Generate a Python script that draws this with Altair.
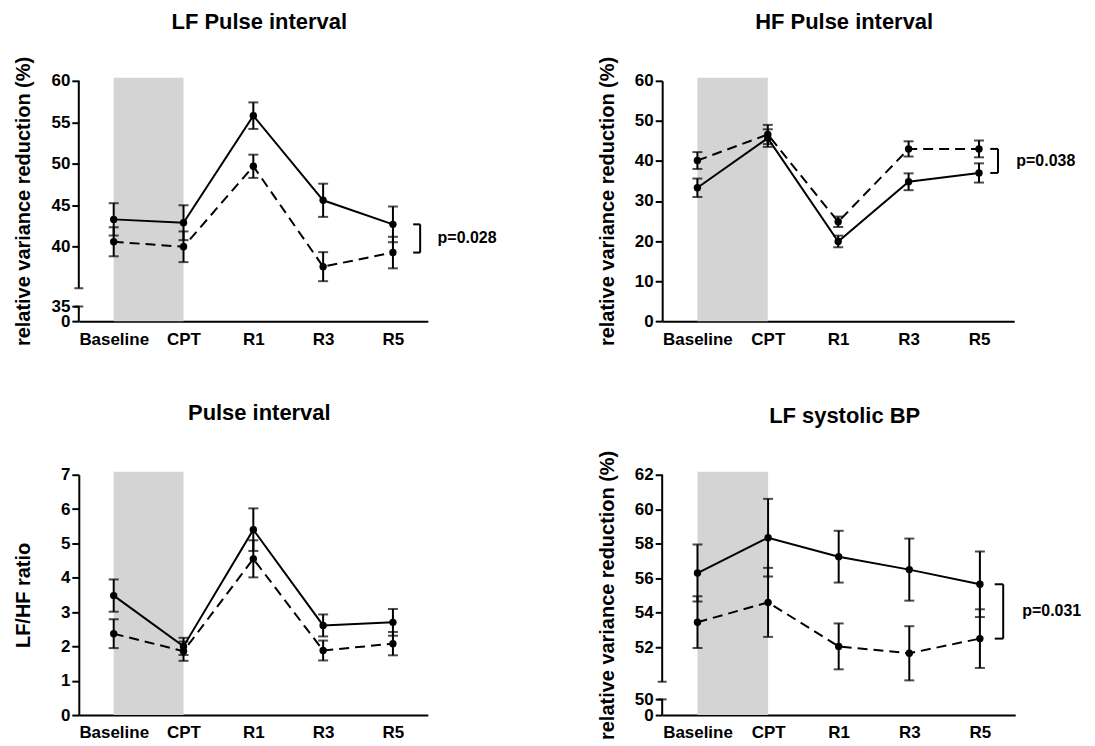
import altair as alt
import pandas as pd

# ---------------- data ----------------
categories = ["Baseline", "CPT", "R1", "R3", "R5"]

titles = ["LF Pulse interval", "HF Pulse interval", "Pulse interval", "LF systolic BP"]
y_titles = ["relative variance reduction (%)", "relative variance reduction (%)",
            "LF/HF ratio", "relative variance reduction (%)"]

lf_pi_solid = [43.3, 42.9, 55.8, 45.6, 42.7]
lf_pi_solid_sem = [1.95, 2.1, 1.6, 2.0, 2.15]
lf_pi_dashed = [40.6, 40.0, 49.7, 37.6, 39.3]
lf_pi_dashed_sem = [1.75, 1.85, 1.4, 1.75, 1.9]

hf_pi_solid = [33.3, 45.7, 19.9, 34.8, 37.0]
hf_pi_solid_sem = [2.3, 2.2, 1.45, 2.1, 2.4]
hf_pi_dashed = [40.1, 46.6, 24.8, 43.0, 43.0]
hf_pi_dashed_sem = [2.1, 2.4, 1.3, 1.9, 2.1]

ratio_solid = [3.48, 2.0, 5.4, 2.61, 2.7]
ratio_solid_sem = [0.47, 0.25, 0.62, 0.32, 0.39]
ratio_dashed = [2.37, 1.86, 4.55, 1.88, 2.08]
ratio_dashed_sem = [0.42, 0.28, 0.54, 0.29, 0.34]

lf_sbp_solid = [56.3, 58.35, 57.25, 56.5, 55.65]
lf_sbp_solid_sem = [1.65, 2.25, 1.5, 1.8, 1.9]
lf_sbp_dashed = [53.45, 54.6, 52.05, 51.65, 52.5]
lf_sbp_dashed_sem = [1.5, 2.0, 1.33, 1.57, 1.7]

p_values = ["p=0.028", "p=0.038", "", "p=0.031"]

# y-axis definitions (broken axes use a piecewise scale)
y_ticks_lf_pi = [0, 34.9, 40, 45, 50, 55, 60]
y_ticks_hf_pi = [0, 10, 20, 30, 40, 50, 60]
y_ticks_ratio = [0, 1, 2, 3, 4, 5, 6, 7]
y_ticks_lf_sbp = [0, 49.9, 52, 54, 56, 58, 60, 62]

# ---------------- style ----------------
FONT = "Liberation Sans"
BLACK = "#000000"
SHADE = "#d4d4d4"
H = 241


def panel(title, ytitle, solid, solid_sem, dashed, dashed_sem, width,
          domain, yrange, yticks, brk=None, pval="", bracket_x=4.35, arm=0.1, text_x=4.62,
          title_offset=22):
    rows = []
    for name, vals, sems in (("solid", solid, solid_sem), ("dashed", dashed, dashed_sem)):
        for i, (v, s) in enumerate(zip(vals, sems)):
            rows.append({"x": i, "cat": categories[i], "series": name, "y": v,
                         "lo": v - s, "hi": v + s})
    df = pd.DataFrame(rows)

    label_expr_x = "[" + ",".join("'%s'" % c for c in categories) + "][datum.value]"
    x_scale = alt.Scale(domain=[-0.5, len(categories) - 0.5], nice=False, zero=False)
    x_axis = alt.Axis(values=list(range(len(categories))), labelExpr=label_expr_x, title=None,
                      ticks=False, tickSize=0, grid=False, domainWidth=2, domainColor=BLACK,
                      labelFont=FONT, labelFontSize=17, labelFontWeight="bold",
                      labelColor=BLACK, labelPadding=10, labelOverlap=False)

    sc_kwargs = dict(domain=domain, nice=False, zero=False)
    if yrange is not None:
        sc_kwargs["range"] = yrange
    y_scale = alt.Scale(**sc_kwargs)
    if brk is not None:
        lab_expr_y = "datum.value == %s ? '%s' : datum.label" % (brk[0], brk[2])
    else:
        lab_expr_y = "datum.label"
    y_axis = alt.Axis(values=yticks, labelExpr=lab_expr_y, title=ytitle, grid=False,
                      domain=(brk is None), domainWidth=2, domainColor=BLACK,
                      tickSize=7, tickWidth=2, tickColor=BLACK,
                      labelFont=FONT, labelFontSize=17, labelFontWeight="bold",
                      labelColor=BLACK, labelPadding=2, labelOverlap=False, labelFlush=False,
                      titleFont=FONT, titleFontSize=20, titleFontWeight="bold",
                      titleColor=BLACK, titlePadding=15, minExtent=30, maxExtent=30)

    X = alt.X("x:Q", scale=x_scale, axis=x_axis)
    Y = alt.Y("y:Q", scale=y_scale, axis=y_axis)

    base = alt.Chart(df)

    # shaded CPT period (Baseline -> CPT)
    shade_df = pd.DataFrame({"x": [0], "x2": [1]})
    shade = alt.Chart(shade_df).mark_rect(color=SHADE).encode(
        x=X, x2="x2:Q", y=alt.value(-3), y2=alt.value(H))

    layers = [shade]

    if brk is not None:
        seg_df = pd.DataFrame({"y": [domain[0], brk[1]], "y2": [brk[0], domain[-1]]})
        segs = alt.Chart(seg_df).mark_rule(color=BLACK, strokeWidth=2).encode(
            x=alt.value(0), y=Y, y2="y2:Q")
        cap_df = pd.DataFrame({"y": [brk[0], brk[1]]})
        caps = alt.Chart(cap_df).mark_tick(color=BLACK, thickness=2, size=9,
                                           orient="horizontal").encode(
            x=alt.value(0), y=Y)
        layers += [segs, caps]

    err = base.mark_rule(color=BLACK, strokeWidth=2).encode(
        x=X, y=alt.Y("lo:Q", scale=y_scale, axis=y_axis), y2="hi:Q")
    cap_hi = base.mark_tick(color=BLACK, thickness=2, size=10, orient="horizontal").encode(
        x=X, y=alt.Y("hi:Q", scale=y_scale, axis=y_axis))
    cap_lo = base.mark_tick(color=BLACK, thickness=2, size=10, orient="horizontal").encode(
        x=X, y=alt.Y("lo:Q", scale=y_scale, axis=y_axis))
    line_s = base.transform_filter(alt.datum.series == "solid").mark_line(
        color=BLACK, strokeWidth=2).encode(x=X, y=Y)
    line_d = base.transform_filter(alt.datum.series == "dashed").mark_line(
        color=BLACK, strokeWidth=2, strokeDash=[10, 6]).encode(x=X, y=Y)
    pts = base.mark_point(filled=True, color=BLACK, opacity=1, size=55).encode(x=X, y=Y)
    layers += [err, cap_hi, cap_lo, line_s, line_d, pts]

    if pval:
        ya = solid[-1]
        yb = dashed[-1]
        br_df = pd.DataFrame({"x": [bracket_x - arm], "x2": [bracket_x], "xv": [bracket_x],
                              "ya": [ya], "yb": [yb], "ym": [(ya + yb) / 2],
                              "tx": [text_x], "t": [pval]})
        bc = alt.Chart(br_df)
        vert = bc.mark_rule(color=BLACK, strokeWidth=2).encode(
            x=alt.X("xv:Q", scale=x_scale, axis=x_axis),
            y=alt.Y("ya:Q", scale=y_scale, axis=y_axis), y2="yb:Q")
        arm_a = bc.mark_rule(color=BLACK, strokeWidth=2).encode(
            x=X, x2="x2:Q", y=alt.Y("ya:Q", scale=y_scale, axis=y_axis))
        arm_b = bc.mark_rule(color=BLACK, strokeWidth=2).encode(
            x=X, x2="x2:Q", y=alt.Y("yb:Q", scale=y_scale, axis=y_axis))
        txt = bc.mark_text(align="left", baseline="middle", font=FONT, fontSize=16,
                           fontWeight="bold", color=BLACK).encode(
            x=alt.X("tx:Q", scale=x_scale, axis=x_axis),
            y=alt.Y("ym:Q", scale=y_scale, axis=y_axis), text="t:N")
        layers += [vert, arm_a, arm_b, txt]

    return alt.layer(*layers).properties(
        width=width, height=H,
        title=alt.TitleParams(title, font=FONT, fontSize=22, fontWeight="bold",
                              color=BLACK, offset=title_offset, dx=6))


p1 = panel(titles[0], y_titles[0], lf_pi_solid, lf_pi_solid_sem, lf_pi_dashed, lf_pi_dashed_sem,
           350, [0, 34.9, 35, 60], [241, 226.3, 208, 0], y_ticks_lf_pi,
           brk=(34.9, 35, "35"), pval=p_values[0], bracket_x=4.39, arm=0.1, text_x=4.64,
           title_offset=22)
p2 = panel(titles[1], y_titles[1], hf_pi_solid, hf_pi_solid_sem, hf_pi_dashed, hf_pi_dashed_sem,
           353, [0, 60], None, y_ticks_hf_pi,
           pval=p_values[1], bracket_x=4.27, arm=0.11, text_x=4.53, title_offset=22)
p3 = panel(titles[2], y_titles[2], ratio_solid, ratio_solid_sem, ratio_dashed, ratio_dashed_sem,
           350, [0, 7], None, y_ticks_ratio, title_offset=41)
p4 = panel(titles[3], y_titles[3], lf_sbp_solid, lf_sbp_solid_sem, lf_sbp_dashed, lf_sbp_dashed_sem,
           354, [0, 49.9, 50, 62], [241, 225.3, 207.6, 0], y_ticks_lf_sbp,
           brk=(49.9, 50, "50"), pval=p_values[3], bracket_x=4.33, arm=0.12, text_x=4.6,
           title_offset=22)

chart = alt.concat(
    p1, p2, p3, p4, columns=2, spacing={"row": 55, "column": 100},
    padding={"left": 5, "top": 2, "right": 5, "bottom": 0},
    background="white",
).configure_view(strokeWidth=0, stroke="transparent")

chart.save("out.html", embed_options={"renderer": "svg", "actions": False})
